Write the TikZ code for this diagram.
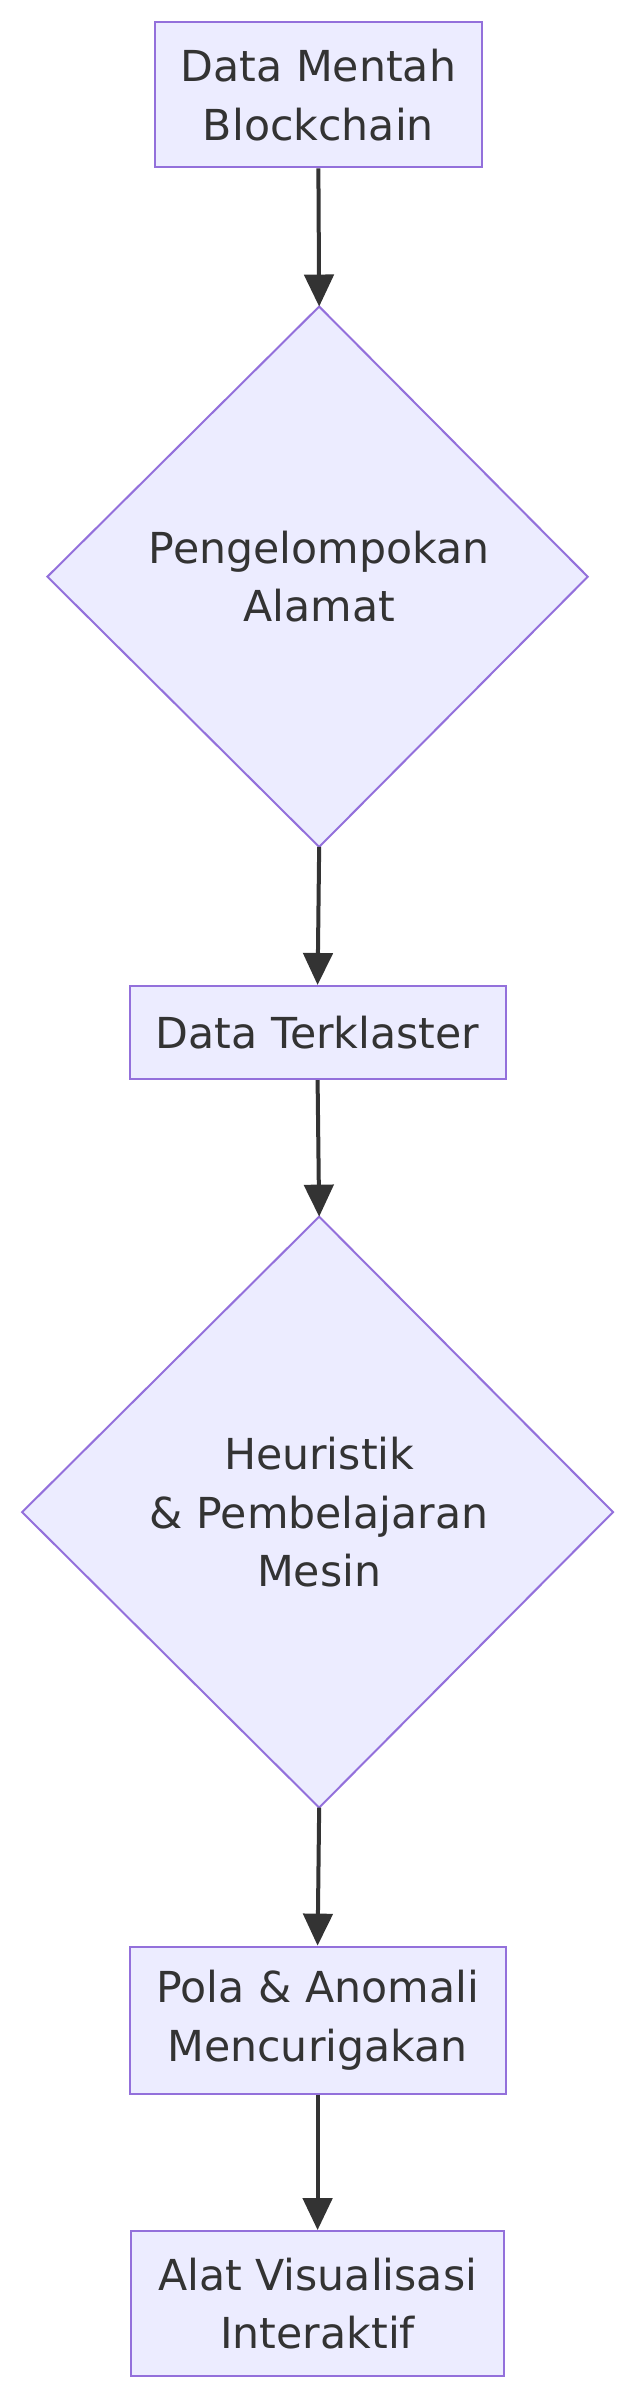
\documentclass[tikz,border=0pt]{standalone}
\usepackage{fontspec}
\setmainfont{DejaVu Sans}
\usetikzlibrary{shapes.geometric,arrows.meta}
\definecolor{nfill}{HTML}{ECECFF}
\definecolor{nline}{HTML}{9370DB}
\definecolor{txt}{HTML}{333333}
\begin{document}
\begin{tikzpicture}[x=1.185pt,y=-1.185pt,
  every node/.style={font=\fontsize{32}{44}\selectfont, text=txt, align=center},
  boxn/.style={draw=nline, fill=nfill, line width=1.5pt, inner sep=0pt},
  arr/.style={draw=txt, line width=3pt, -{Triangle[length=24pt,width=22pt]}}]
\useasboundingbox (0,0) rectangle (405,1524);
\node[boxn, minimum width=207*1.185pt, minimum height=92*1.185pt] (a) at (201.5,60) {Data Mentah\\Blockchain};
\draw[draw=nline, fill=nfill, line width=1.5pt] (202,194) -- (372,365) -- (202,536) -- (30,365) -- cycle;
\node (b) at (202,365) {Pengelompokan\\Alamat};
\coordinate (bt) at (202,194); \coordinate (bb) at (202,536);
\node[boxn, minimum width=238*1.185pt, minimum height=59*1.185pt] (c) at (201,653.5) {Data Terklaster};
\draw[draw=nline, fill=nfill, line width=1.5pt] (202,770) -- (388,957) -- (202,1144) -- (14,957) -- cycle;
\node (d) at (202,957) {Heuristik\\\& Pembelajaran\\Mesin};
\coordinate (dt) at (202,770); \coordinate (db) at (202,1144);
\node[boxn, minimum width=238*1.185pt, minimum height=93*1.185pt] (e) at (201,1278.5) {Pola \& Anomali\\Mencurigakan};
\node[boxn, minimum width=236*1.185pt, minimum height=92*1.185pt] (f) at (201,1458) {Alat Visualisasi\\Interaktif};
\draw[arr] (a.south) -- (bt);
\draw[arr] (bb) -- (c.north);
\draw[arr] (c.south) -- (dt);
\draw[arr] (db) -- (e.north);
\draw[arr] (e.south) -- (f.north);
\end{tikzpicture}
\end{document}
